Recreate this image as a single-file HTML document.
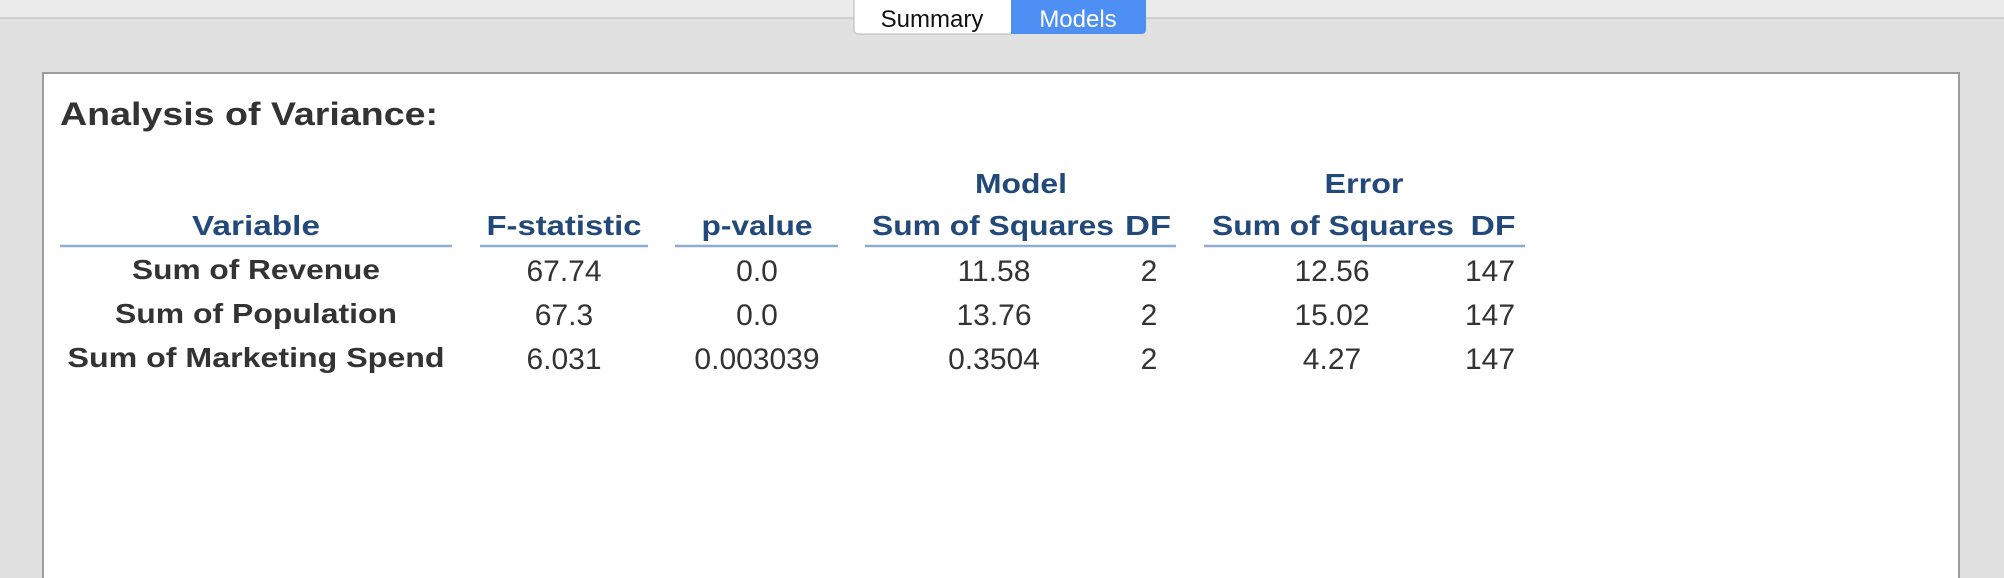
<!DOCTYPE html>
<html><head><meta charset="utf-8"><style>
html,body{margin:0;padding:0;width:2004px;height:578px;overflow:hidden;background:#e1e1e1;font-family:"Liberation Sans",sans-serif;}
svg{display:block}
</style></head><body>
<svg width="2004" height="578">
<rect x="0" y="0" width="2004" height="18" fill="#ececec"/>
<line x1="0" y1="18" x2="2004" y2="18" stroke="#cfcfcf" stroke-width="2"/>
<g>
<rect x="854" y="-4" width="160" height="38" rx="4" fill="#fff" stroke="#b8b8b8"/>
<text x="932" y="27" text-anchor="middle" font-size="24" fill="#111">Summary</text>
</g>
<g>
<rect x="1011" y="-4" width="135" height="38" rx="4" fill="#4d8ff2"/>
<rect x="1011" y="-4" width="10" height="38" fill="#4d8ff2"/>
<text x="1078" y="27" text-anchor="middle" font-size="24" fill="#fff">Models</text>
</g>
<rect x="43" y="73" width="1916" height="520" fill="#fff" stroke="#9c9c9c" stroke-width="2"/>
<text x="60" y="125" font-size="32" font-weight="bold" fill="#333" textLength="378" lengthAdjust="spacingAndGlyphs">Analysis of Variance:</text>
<g font-size="28" font-weight="bold" fill="#22497a" text-anchor="middle">
<text x="1021" y="193" textLength="92" lengthAdjust="spacingAndGlyphs">Model</text>
<text x="1364" y="193" textLength="79" lengthAdjust="spacingAndGlyphs">Error</text>
<text x="256" y="235" textLength="128" lengthAdjust="spacingAndGlyphs">Variable</text>
<text x="564" y="235" textLength="155" lengthAdjust="spacingAndGlyphs">F-statistic</text>
<text x="757" y="235" textLength="111" lengthAdjust="spacingAndGlyphs">p-value</text>
<text x="993" y="235" textLength="242" lengthAdjust="spacingAndGlyphs">Sum of Squares</text>
<text x="1148" y="235" textLength="46" lengthAdjust="spacingAndGlyphs">DF</text>
<text x="1333" y="235" textLength="242" lengthAdjust="spacingAndGlyphs">Sum of Squares</text>
<text x="1493" y="235" textLength="45" lengthAdjust="spacingAndGlyphs">DF</text>
</g>
<g stroke="#8eabd0" stroke-width="2.5">
<line x1="60" y1="246" x2="452" y2="246"/>
<line x1="480" y1="246" x2="648" y2="246"/>
<line x1="675" y1="246" x2="838" y2="246"/>
<line x1="865" y1="246" x2="1176" y2="246"/>
<line x1="1204" y1="246" x2="1525" y2="246"/>
</g>
<g font-size="28" font-weight="bold" fill="#333" text-anchor="middle">
<text x="256" y="279" textLength="248" lengthAdjust="spacingAndGlyphs">Sum of Revenue</text>
<text x="256" y="323" textLength="282" lengthAdjust="spacingAndGlyphs">Sum of Population</text>
<text x="256" y="367" textLength="377" lengthAdjust="spacingAndGlyphs">Sum of Marketing Spend</text>
</g>
<g font-size="30" fill="#333" text-anchor="middle">
<text x="564" y="281">67.74</text><text x="757" y="281">0.0</text><text x="994" y="281">11.58</text><text x="1149" y="281">2</text><text x="1332" y="281">12.56</text><text x="1490" y="281">147</text>
<text x="564" y="325">67.3</text><text x="757" y="325">0.0</text><text x="994" y="325">13.76</text><text x="1149" y="325">2</text><text x="1332" y="325">15.02</text><text x="1490" y="325">147</text>
<text x="564" y="369">6.031</text><text x="757" y="369">0.003039</text><text x="994" y="369">0.3504</text><text x="1149" y="369">2</text><text x="1332" y="369">4.27</text><text x="1490" y="369">147</text>
</g>
</svg>
</body></html>
